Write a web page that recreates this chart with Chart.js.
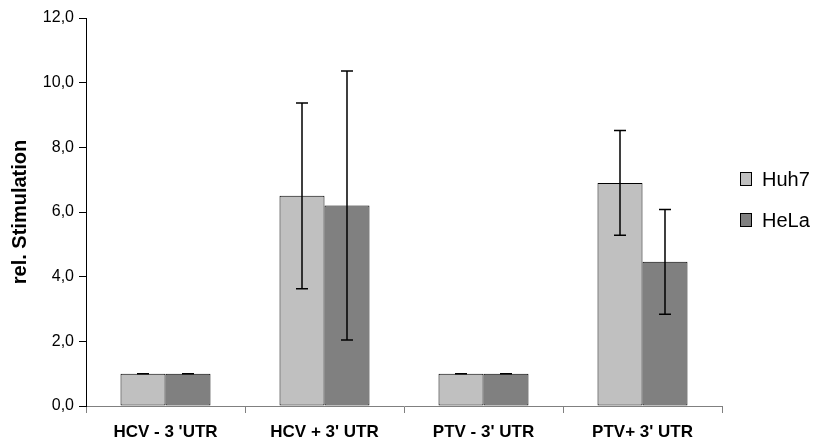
<!DOCTYPE html>
<html>
<head>
<meta charset="utf-8">
<script src="https://cdn.jsdelivr.net/npm/chart.js@4.4.0/dist/chart.umd.min.js"></script>
<style>
  html, body { margin: 0; padding: 0; background: #fff; }
  #wrap { width: 816px; height: 444px; position: relative; }
</style>
</head>
<body>
<div id="wrap"><canvas id="stimChart"></canvas></div>
<script>
const categories = ["HCV - 3 'UTR", "HCV + 3' UTR", "PTV - 3' UTR", "PTV+ 3' UTR"];
const huh7 = [1.0, 6.5, 1.0, 6.9];
const huh7Err = [0, 2.87, 0, 1.62];
const hela = [1.0, 6.2, 1.0, 4.46];
const helaErr = [0, 4.16, 0, 1.62];
const yTicks = [0, 2, 4, 6, 8, 10, 12];

const FONT = 'Liberation Sans, Arial, sans-serif';

// symmetric error bars drawn on top of each bar
const errorBars = {
  id: 'errorBars',
  afterDatasetsDraw(chart) {
    const ctx = chart.ctx;
    const y = chart.scales.y;
    ctx.save();
    ctx.strokeStyle = '#000';
    ctx.lineWidth = 1.5;
    chart.data.datasets.forEach((ds, i) => {
      const meta = chart.getDatasetMeta(i);
      meta.data.forEach((bar, j) => {
        const v = ds.data[j], e = ds.errors[j];
        const top = y.getPixelForValue(v + e);
        const bot = y.getPixelForValue(v - e);
        const cx = bar.x;
        ctx.beginPath();
        ctx.moveTo(cx, top); ctx.lineTo(cx, bot);
        ctx.moveTo(cx - 6, top); ctx.lineTo(cx + 6, top);
        ctx.moveTo(cx - 6, bot); ctx.lineTo(cx + 6, bot);
        ctx.stroke();
      });
    });
    ctx.restore();
  }
};

// legend to the right of the plot, one row per dataset
const sideLegend = {
  id: 'sideLegend',
  afterDraw(chart) {
    const ctx = chart.ctx;
    const x0 = chart.chartArea.right + 18;
    const yMid = (chart.chartArea.top + chart.chartArea.bottom) / 2 - 13;
    const rowGap = 41;
    const n = chart.data.datasets.length;
    ctx.save();
    ctx.font = '20px ' + FONT;
    ctx.textBaseline = 'middle';
    chart.data.datasets.forEach((ds, i) => {
      const cy = Math.round(yMid + (i - (n - 1) / 2) * rowGap);
      ctx.fillStyle = ds.backgroundColor;
      ctx.fillRect(x0, cy - 7, 12, 14);
      ctx.strokeStyle = '#000';
      ctx.lineWidth = 1;
      ctx.strokeRect(x0 + 0.5, cy - 6.5, 11, 13);
      ctx.fillStyle = '#000';
      ctx.fillText(ds.label, x0 + 22, cy + 1);
    });
    ctx.restore();
  }
};

const ctx = document.getElementById('stimChart').getContext('2d');
new Chart(ctx, {
  type: 'bar',
  data: {
    labels: categories,
    datasets: [{
      label: 'Huh7',
      data: huh7,
      errors: huh7Err,
      backgroundColor: '#c0c0c0',
      borderColor: '#000',
      borderWidth: 1,
      borderSkipped: false
    }, {
      label: 'HeLa',
      data: hela,
      errors: helaErr,
      backgroundColor: '#808080',
      borderColor: '#000',
      borderWidth: 1,
      borderSkipped: false
    }]
  },
  options: {
    responsive: true,
    maintainAspectRatio: false,
    animation: false,
    layout: { padding: { top: 18, left: 6, right: 94, bottom: 0 } },
    datasets: { bar: { categoryPercentage: 0.566, barPercentage: 1.0 } },
    plugins: {
      tooltip: { enabled: false },
      legend: { display: false }
    },
    scales: {
      x: {
        afterFit(axis) { axis.height = 38; },
        grid: { offset: true, drawOnChartArea: false, tickLength: 7, color: '#808080' },
        border: { color: '#808080', width: 1 },
        ticks: {
          color: '#000',
          padding: 9,
          maxRotation: 0,
          font: { family: FONT, size: 17, weight: 'bold' }
        }
      },
      y: {
        min: 0,
        max: 12,
        afterBuildTicks(axis) { axis.ticks = yTicks.map(v => ({ value: v })); },
        afterFit(axis) { axis.width = 80; },
        grid: { drawOnChartArea: false, tickLength: 7, color: '#000' },
        border: { color: '#000', width: 1 },
        title: {
          display: true,
          text: 'rel. Stimulation',
          color: '#000',
          padding: { top: 2, bottom: 0 },
          font: { family: FONT, size: 20, weight: 'bold' }
        },
        ticks: {
          color: '#000',
          padding: 5,
          callback: v => v.toFixed(1).replace('.', ','),
          font: { family: FONT, size: 16 }
        }
      }
    }
  },
  plugins: [errorBars, sideLegend]
});
</script>
</body>
</html>
